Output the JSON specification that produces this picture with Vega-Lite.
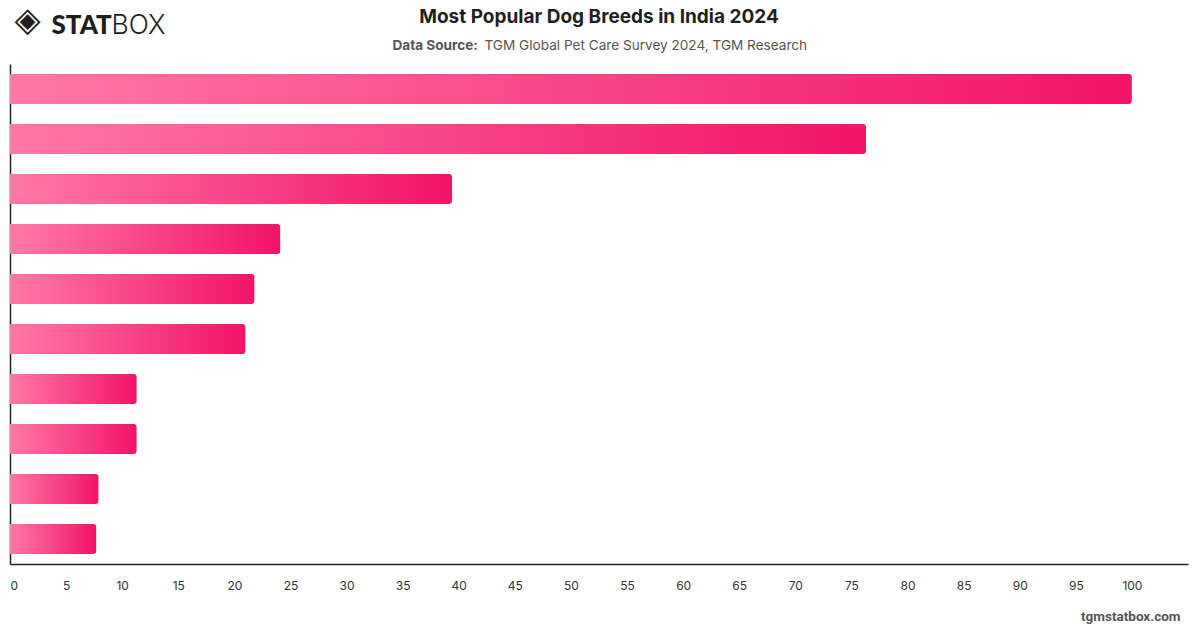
{
  "$schema": "https://vega.github.io/schema/vega-lite/v6.json",
  "width": 1178,
  "height": 500,
  "autosize": {"type": "none"},
  "padding": {"left": 10, "top": 64, "right": 12, "bottom": 64},
  "background": "white",
  "config": {
    "view": {"stroke": null},
    "font": "Inter",
    "axis": {"grid": false, "ticks": false}
  },
  "title": {
    "text": "Most Popular Dog Breeds in India 2024",
    "anchor": "middle",
    "font": "Inter",
    "fontSize": 19,
    "fontWeight": "bold",
    "color": "#1f1f1f",
    "offset": 12,
    "dy": 36
  },
  "data": {
    "values": [
      {"rank": 1, "share": 100},
      {"rank": 2, "share": 76.3},
      {"rank": 3, "share": 39.4},
      {"rank": 4, "share": 24.1},
      {"rank": 5, "share": 21.8},
      {"rank": 6, "share": 21.0},
      {"rank": 7, "share": 11.3},
      {"rank": 8, "share": 11.3},
      {"rank": 9, "share": 7.9},
      {"rank": 10, "share": 7.7}
    ]
  },
  "layer": [
    {
      "mark": {
        "type": "bar",
        "cornerRadiusEnd": 3,
        "color": {
          "gradient": "linear",
          "x1": 0, "y1": 0, "x2": 1, "y2": 0,
          "stops": [
            {"offset": 0, "color": "#ff78a6"},
            {"offset": 1, "color": "#f1146a"}
          ]
        }
      },
      "encoding": {
        "y": {
          "field": "rank",
          "type": "ordinal",
          "sort": "ascending",
          "scale": {"paddingInner": 0.4, "paddingOuter": 0.2},
          "axis": {
            "orient": "left",
            "labels": false,
            "domain": true,
            "domainColor": "#222222",
            "domainWidth": 1.5,
            "title": "Data Source:",
            "titleAngle": 0,
            "titleAlign": "left",
            "titleBaseline": "alphabetic",
            "titleX": 382,
            "titleY": -15,
            "titleFont": "Inter",
            "titleFontSize": 13.6,
            "titleFontWeight": "bold",
            "titleColor": "#555555"
          }
        },
        "x": {
          "field": "share",
          "type": "quantitative",
          "scale": {"domain": [0, 105], "nice": false},
          "axis": {
            "orient": "bottom",
            "values": [0, 5, 10, 15, 20, 25, 30, 35, 40, 45, 50, 55, 60, 65, 70, 75, 80, 85, 90, 95, 100],
            "labelFont": "Inter",
            "labelFontSize": 12,
            "labelColor": "#333333",
            "labelPadding": 16,
            "labelFlush": true,
            "domainColor": "#222222",
            "domainWidth": 1.5,
            "title": "tgmstatbox.com",
            "titleAlign": "right",
            "titleAnchor": null,
            "titleBaseline": "alphabetic",
            "titleX": 1170,
            "titleY": 56,
            "titleFont": "Roboto",
            "titleFontSize": 13.5,
            "titleFontWeight": "bold",
            "titleColor": "#555555"
          }
        }
      }
    },
    {
      "mark": {"type": "bar", "opacity": 0},
      "encoding": {
        "y": {
          "field": "rank",
          "type": "ordinal",
          "sort": "ascending",
          "axis": {
            "orient": "right",
            "labels": false,
            "domain": false,
            "title": "STAT",
            "titleAngle": 0,
            "titleAlign": "left",
            "titleBaseline": "alphabetic",
            "titleX": -1137,
            "titleY": -31,
            "titleFont": "Lato",
            "titleFontSize": 26,
            "titleFontWeight": 900,
            "titleColor": "#1e1e1e"
          }
        },
        "x": {
          "field": "share",
          "type": "quantitative",
          "axis": {
            "orient": "top",
            "labels": false,
            "domain": false,
            "title": "BOX",
            "titleAlign": "left",
            "titleAnchor": null,
            "titleBaseline": "alphabetic",
            "titleX": 101,
            "titleY": -31,
            "titleFont": "Inter",
            "titleFontSize": 26.5,
            "titleFontWeight": 300,
            "titleColor": "#1e1e1e"
          }
        }
      }
    },
    {
      "mark": {"type": "bar", "opacity": 0},
      "encoding": {
        "y": {
          "field": "rank",
          "type": "ordinal",
          "sort": "ascending",
          "axis": {
            "orient": "left",
            "labels": false,
            "domain": false,
            "title": "◈",
            "titleAngle": 0,
            "titleAlign": "left",
            "titleBaseline": "middle",
            "titleX": 4,
            "titleY": -44,
            "titleFont": "DejaVu Sans",
            "titleFontSize": 34,
            "titleColor": "#1e1e1e"
          }
        },
        "x": {
          "field": "share",
          "type": "quantitative",
          "axis": {
            "orient": "top",
            "labels": false,
            "domain": false,
            "title": "TGM Global Pet Care Survey 2024, TGM Research",
            "titleAlign": "left",
            "titleAnchor": null,
            "titleBaseline": "alphabetic",
            "titleX": 474,
            "titleY": -15,
            "titleFont": "Inter",
            "titleFontSize": 13.6,
            "titleFontWeight": "normal",
            "titleColor": "#555555"
          }
        }
      }
    }
  ],
  "resolve": {"axis": {"x": "independent", "y": "independent"}}
}
